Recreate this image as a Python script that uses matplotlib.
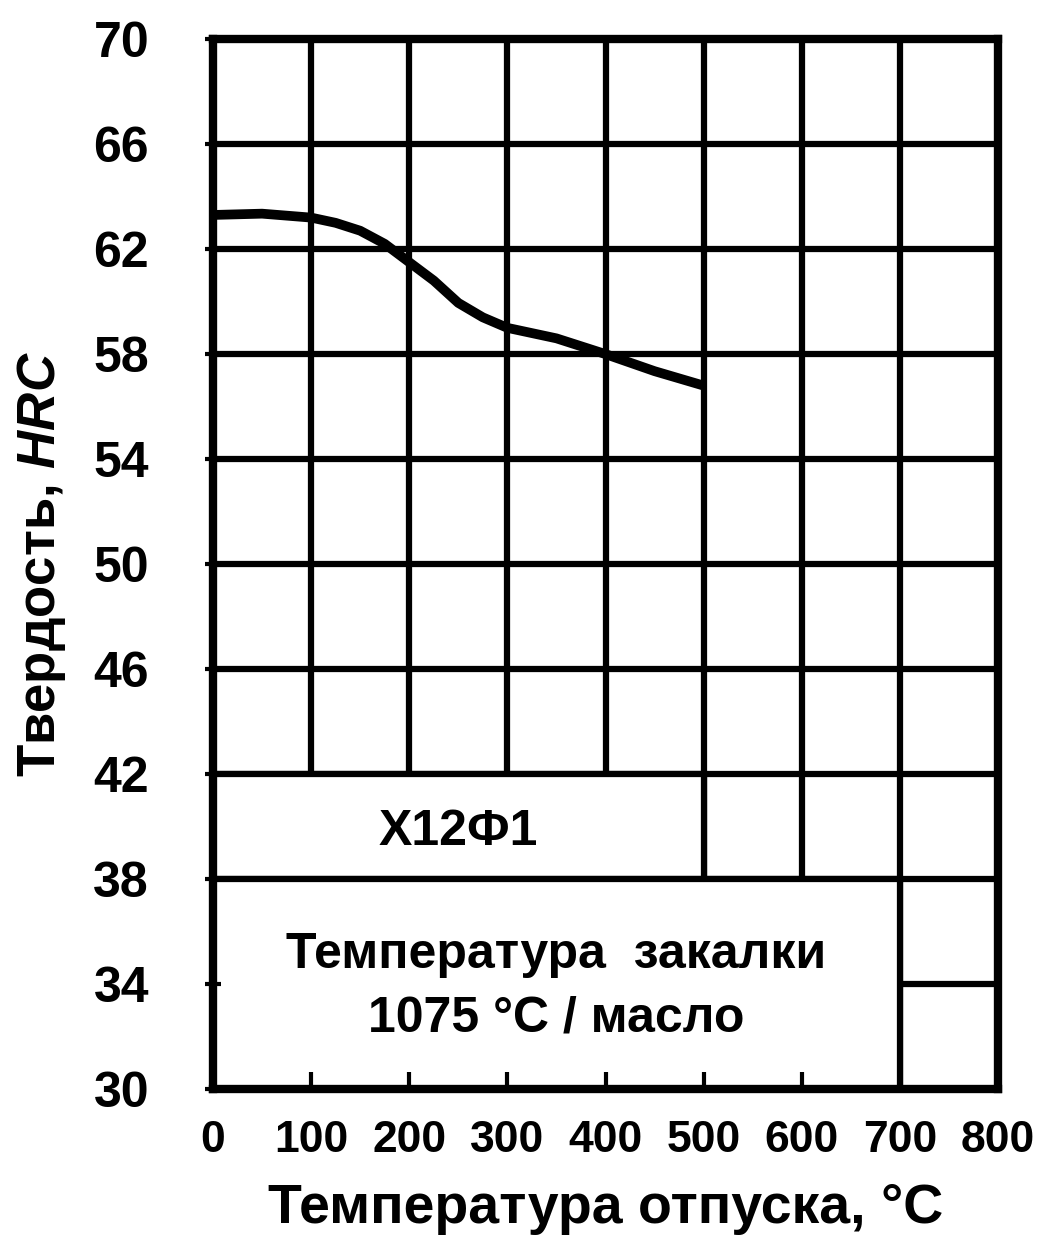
import matplotlib
matplotlib.use("Agg")
import matplotlib.pyplot as plt
from matplotlib.patches import Rectangle

plt.rcParams['font.family'] = ['Liberation Sans', 'DejaVu Sans']
plt.rcParams['font.weight'] = 'bold'
plt.rcParams['axes.labelweight'] = 'bold'
plt.rcParams['mathtext.fontset'] = 'custom'
plt.rcParams['mathtext.it'] = 'Liberation Sans:italic:bold'
plt.rcParams['mathtext.rm'] = 'Liberation Sans:bold'

# tempering temperature, C  /  hardness HRC
temper_t = [0, 50, 100, 125, 150, 175, 200, 225, 250, 275, 300, 325, 350, 400, 450, 500]
hardness = [63.3, 63.35, 63.2, 63.0, 62.7, 62.2, 61.5, 60.8, 59.95, 59.4, 59.0, 58.8, 58.6, 58.0, 57.35, 56.8]

x_ticks = [0, 100, 200, 300, 400, 500, 600, 700, 800]
y_ticks = [30, 34, 38, 42, 46, 50, 54, 58, 62, 66, 70]

steel = 'Х12Ф1'
quench_note = 'Температура  закалки\n1075 °C / масло'
# (x0, x1, y0, y1) of the two white label boxes
steel_box = (0, 500, 38, 42)
note_box = (0, 700, 30, 38)

fig = plt.figure(figsize=(10.56, 12.49), dpi=100)
ax = fig.add_axes([0.2017, 0.128, 0.7434, 0.8407])
ax.set_xlim(x_ticks[0], x_ticks[-1])
ax.set_ylim(y_ticks[0], y_ticks[-1])

grid_lw = 4.5
ax.vlines(x_ticks[1:-1], y_ticks[0], y_ticks[-1], colors='black', lw=grid_lw, zorder=1)
ax.hlines(y_ticks[1:-1], x_ticks[0], x_ticks[-1], colors='black', lw=grid_lw, zorder=1)

for (x0, x1, y0, y1) in (steel_box, note_box):
    ax.add_patch(Rectangle((x0, y0), x1 - x0, y1 - y0, facecolor='white',
                           edgecolor='black', lw=grid_lw, zorder=2))

ax.plot(temper_t, hardness, color='black', lw=7, solid_capstyle='butt',
        solid_joinstyle='round', zorder=3)

ax.text((steel_box[0] + steel_box[1]) / 2, (steel_box[2] + steel_box[3]) / 2 - 0.2, steel,
        ha='center', va='center', fontsize=36, zorder=4)
ax.text((note_box[0] + note_box[1]) / 2, (note_box[2] + note_box[3]) / 2 - 0.1, quench_note,
        ha='center', va='center', fontsize=36, linespacing=1.5, zorder=4)

for s in ax.spines.values():
    s.set_linewidth(6)
    s.set_zorder(5)
ax.set_axisbelow(False)

ax.set_xticks(x_ticks)
ax.set_yticks(y_ticks)
ax.set_xticklabels([str(v) for v in x_ticks], fontsize=32, fontweight='bold')
ax.set_yticklabels([str(v) for v in y_ticks], fontsize=36, fontweight='bold')
ax.tick_params(axis='x', direction='in', length=12, width=3, pad=22)
ax.tick_params(axis='y', direction='inout', length=12, width=3, pad=40)

ax.set_xlabel('Температура отпуска, °C', fontsize=40, fontweight='bold', labelpad=16)
ax.set_ylabel('Твердость, $HRC$', fontsize=38, fontweight='bold', labelpad=18)

fig.savefig('out.png', dpi=100, facecolor='white')
